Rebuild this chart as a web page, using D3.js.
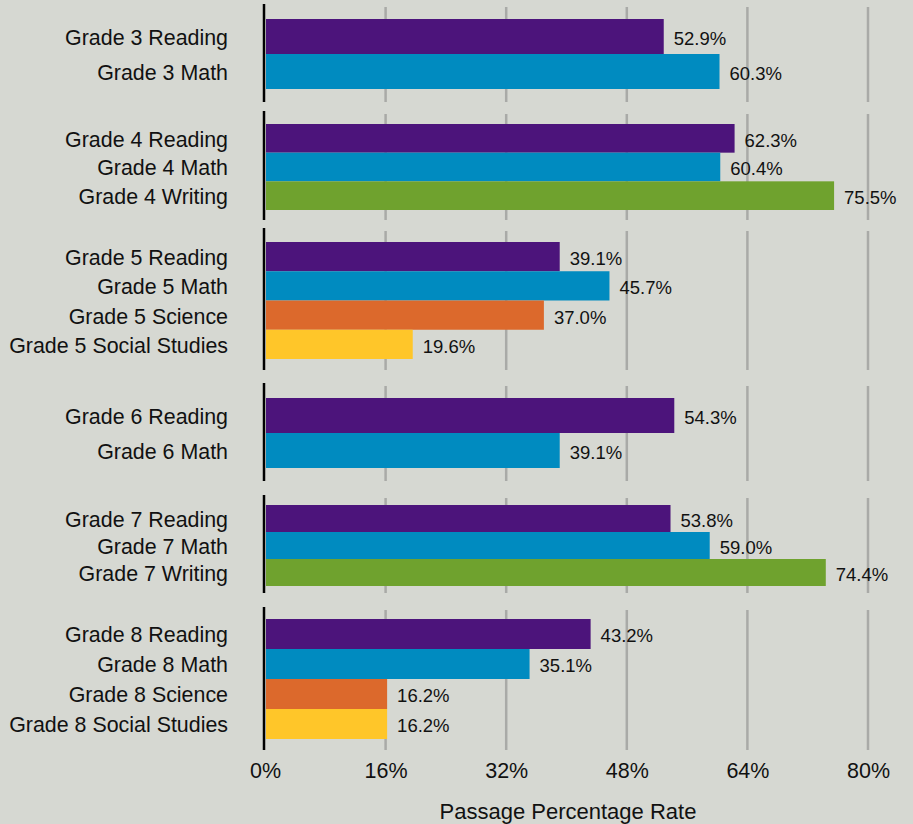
<!DOCTYPE html>
<html>
<head>
<meta charset="utf-8">
<script src="https://cdn.jsdelivr.net/npm/d3@7"></script>
<style>
  html, body { margin: 0; padding: 0; background: #d6d8d2; }
  svg { display: block; }
  text { font-family: "Liberation Sans", Arial, Helvetica, sans-serif; fill: #111; }
</style>
</head>
<body>
<svg id="chart" width="913" height="824"></svg>
<script>
// ---- Data ----
const groups = ["Grade 3", "Grade 4", "Grade 5", "Grade 6", "Grade 7", "Grade 8"];
const categories = [
  "Grade 3 Reading", "Grade 3 Math",
  "Grade 4 Reading", "Grade 4 Math", "Grade 4 Writing",
  "Grade 5 Reading", "Grade 5 Math", "Grade 5 Science", "Grade 5 Social Studies",
  "Grade 6 Reading", "Grade 6 Math",
  "Grade 7 Reading", "Grade 7 Math", "Grade 7 Writing",
  "Grade 8 Reading", "Grade 8 Math", "Grade 8 Science", "Grade 8 Social Studies"
];
const categoryGroup = ["Grade 3","Grade 3","Grade 4","Grade 4","Grade 4","Grade 5","Grade 5","Grade 5","Grade 5","Grade 6","Grade 6","Grade 7","Grade 7","Grade 7","Grade 8","Grade 8","Grade 8","Grade 8"];
const categorySubject = ["Reading","Math","Reading","Math","Writing","Reading","Math","Science","Social Studies","Reading","Math","Reading","Math","Writing","Reading","Math","Science","Social Studies"];
const values = [52.9, 60.3, 62.3, 60.4, 75.5, 39.1, 45.7, 37.0, 19.6, 54.3, 39.1, 53.8, 59.0, 74.4, 43.2, 35.1, 16.2, 16.2];
const subjects = ["Reading", "Math", "Writing", "Science", "Social Studies"];
const tickValues = [0, 16, 32, 48, 64, 80];
const xTitle = "Passage Percentage Rate";

// ---- Layout / style (not data) ----
const colors = ["#4c147b", "#008bc0", "#6fa22e", "#dc692c", "#ffc629"];
const panelExtent = [[4, 102], [111, 220], [228, 370], [383, 481], [495, 593], [607, 750]];
const barExtent = [[19, 89], [124, 210], [242, 359], [398, 468], [505, 586], [619, 739]];

const svg = d3.select("#chart");
const x = d3.scaleLinear().domain([0, 80]).range([265, 868]);
const color = d3.scaleOrdinal().domain(subjects).range(colors);
const gIndex = d3.scaleOrdinal().domain(groups).range(d3.range(groups.length));

const rows = categories.map((c, i) => ({ cat: c, group: categoryGroup[i], subject: categorySubject[i], value: values[i] }));

groups.forEach(gname => {
  const gi = gIndex(gname);
  const gRows = rows.filter(r => r.group === gname);
  const y = d3.scaleBand().domain(gRows.map(r => r.cat)).range(barExtent[gi]).padding(0);
  const g = svg.append("g");
  const [pt, pb] = panelExtent[gi];

  // gridlines
  g.selectAll("line.grid").data(tickValues.slice(1)).join("line")
    .attr("x1", d => x(d)).attr("x2", d => x(d))
    .attr("y1", pt + 3).attr("y2", pb)
    .attr("stroke", "#a9aaa7").attr("stroke-width", 2.5);

  // bars
  g.selectAll("rect").data(gRows).join("rect")
    .attr("x", x(0) + 1)
    .attr("y", d => y(d.cat))
    .attr("width", d => x(d.value) - x(0) - 1)
    .attr("height", y.bandwidth())
    .attr("fill", d => color(d.subject));

  // baseline
  g.append("line")
    .attr("x1", x(0) - 1).attr("x2", x(0) - 1)
    .attr("y1", pt).attr("y2", pb)
    .attr("stroke", "#000").attr("stroke-width", 2.5);

  // category labels
  g.selectAll("text.cat").data(gRows).join("text")
    .attr("class", "cat")
    .attr("x", 228)
    .attr("y", d => y(d.cat) + y.bandwidth() / 2 + 1)
    .attr("dy", "0.35em")
    .attr("text-anchor", "end")
    .style("font-size", "21.4px")
    .text(d => d.cat);

  // value labels
  g.selectAll("text.val").data(gRows).join("text")
    .attr("class", "val")
    .attr("x", d => x(d.value) + 10)
    .attr("y", d => y(d.cat) + y.bandwidth() / 2 + 2)
    .attr("dy", "0.35em")
    .style("font-size", "18.5px")
    .text(d => d.value.toFixed(1) + "%");
});

// x axis tick labels
const xAxis = d3.axisBottom(x).tickValues(tickValues).tickSize(0).tickPadding(0).tickFormat(d => d + "%");
const ax = svg.append("g").attr("transform", "translate(0,763)").call(xAxis);
ax.select(".domain").remove();
ax.selectAll("text").style("font-size", "21.5px").attr("fill", "#111")
  .attr("font-family", "Liberation Sans, Arial, sans-serif");

svg.append("text")
  .attr("x", 568).attr("y", 819)
  .attr("text-anchor", "middle")
  .style("font-size", "22px")
  .text(xTitle);
</script>
</body>
</html>
